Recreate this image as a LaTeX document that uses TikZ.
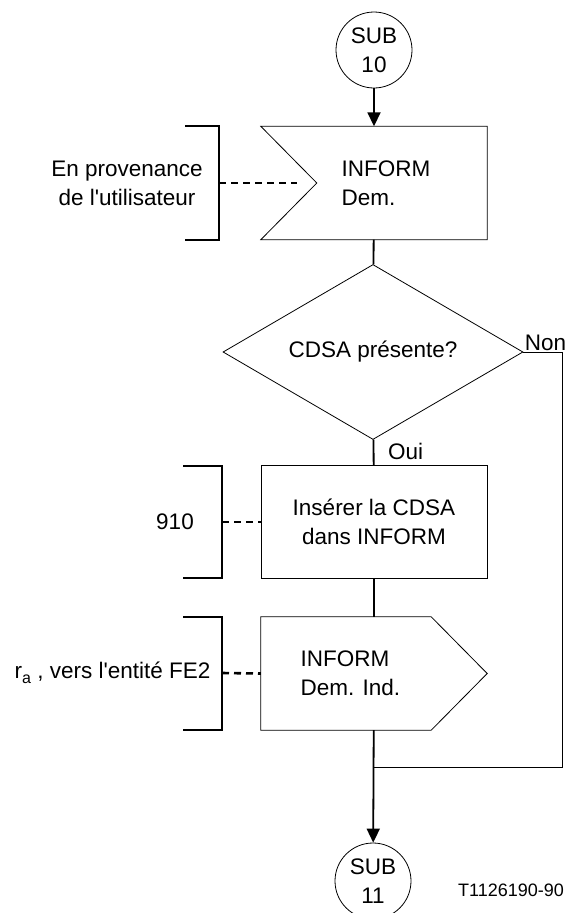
\documentclass[tikz,border=0pt]{standalone}
\usepackage{fontspec}
\newfontfamily\arial{Liberation Sans}
\usetikzlibrary{arrows.meta,shapes.geometric,calc}
\begin{document}
\begin{tikzpicture}[x=1pt,y=-1pt,>={Triangle[length=14pt,width=13pt]},
	font=\arial\fontsize{22.5}{29}\selectfont,
	conn/.style={draw,circle,minimum size=76pt,inner sep=0pt,align=center,line width=0.8pt},
	boite/.style={minimum width=226pt,minimum height=113pt,inner sep=0pt},
	tache/.style={boite,draw,align=center,line width=0.8pt},
	decision/.style={draw,diamond,aspect=1.7,minimum width=300pt,minimum height=175pt,inner sep=0pt,line width=0.8pt},
	flux/.style={line width=1.8pt},
	crochet/.style={line width=2.2pt},
	tirets/.style={line width=2.6pt,dash pattern=on 7pt off 5pt}]
	\useasboundingbox (0,0) rectangle (565,913);
	% Les symboles du diagramme
	\node[conn] (sub10) at (374,50) {SUB\\10};
	\node[boite] (dem) at (374,183) {};
	\draw[line width=0.8pt] (dem.north west) -- (dem.north east) -- (dem.south east) -- (dem.south west) -- ($(dem.west)+(56,0)$) -- cycle;
	\node[anchor=west,align=left] (demtxt) at (338,183) {INFORM\\Dem.};
	\node[decision] (cdsa) at (373,352) {CDSA présente?};
	\node[tache] (ins) at (374,522) {Insérer la CDSA\\dans INFORM};
	\node[boite] (ind) at (374,673.5) {};
	\draw[line width=0.8pt] (ind.north west) -- ($(ind.north east)+(-56,0)$) -- (ind.east) -- ($(ind.south east)+(-56,0)$) -- (ind.south west) -- cycle;
	\node[anchor=west,align=left] (indtxt) at (297,673) {INFORM\\Dem. Ind.};
	\node[conn] (sub11) at (373,881) {SUB\\11};
	% Liaisons
	\draw[flux,->] (sub10) -- (dem);
	\draw[flux] (dem) -- (cdsa);
	\draw[flux] (cdsa) -- (ins);
	\draw (cdsa.south) ++(15,12) node[anchor=west,inner sep=0pt] (oui) {Oui};
	\draw[flux] (ins) -- (ind);
	\coordinate (merge) at (373,767);
	\draw[flux,->] (ind) -- (sub11);
	\draw[line width=0.8pt] (cdsa.east) node[above right,inner sep=1pt] (non) {Non} -- ++(39,0) |- (merge);
	% Commentaires a gauche
	\node[align=center] (prov) at (127,183) {En provenance\\de l'utilisateur};
	\draw[crochet] (185,126) -- (219,126) -- (219,240) -- (185,240);
	\coordinate (c1) at (219,183);
	\draw[tirets] (c1) -- ($(dem.west)+(36,0)$);
	\node (num) at (175,522) {910};
	\draw[crochet] (183,466) -- (222,466) -- (222,578) -- (183,578);
	\coordinate (c2) at (222,522);
	\draw[tirets] (c2) -- (ins.west);
	\node[anchor=east] (dest) at (214,673) {r\raisebox{-5pt}{\fontsize{16}{16}\selectfont a} , vers l'entité FE2};
	\draw[crochet] (183,617) -- (222,617) -- (222,730) -- (183,730);
	\coordinate (c3) at (222,673);
	\draw[tirets] (c3) -- (ind.west);
	\node[font=\arial\fontsize{18}{20}\selectfont] (ref) at (511,890) {T1126190-90};
\end{tikzpicture}
\end{document}
